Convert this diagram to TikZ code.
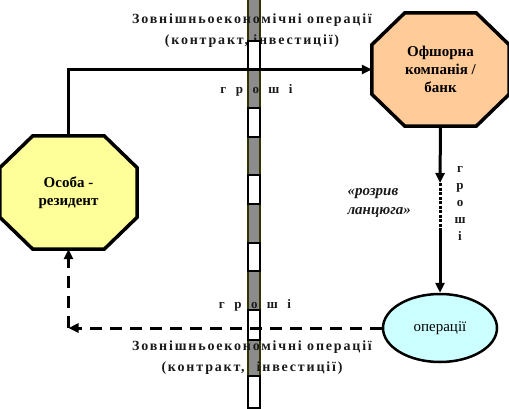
\documentclass[tikz,border=0pt]{standalone}
\usepackage{fontspec}
\setmainfont{Liberation Serif}
\usetikzlibrary{arrows.meta,shapes.geometric,backgrounds}
\definecolor{resyellow}{HTML}{FFFF99}
\definecolor{offpeach}{HTML}{FFCC99}
\definecolor{opcyan}{HTML}{CCFFFF}
\definecolor{bargray}{HTML}{8C8C8C}
\definecolor{barolive}{HTML}{333300}
\definecolor{txtdark}{HTML}{1A1A1A}
\begin{document}
\begin{tikzpicture}[x=1pt,y=-1pt,
  octbox/.style={minimum width=137pt, minimum height=113pt, inner sep=0pt, align=center,
    font=\fontsize{15pt}{18pt}\selectfont\bfseries},
  octline/.style={draw=black, line width=3.5pt, line join=miter},
  spacedtxt/.style={text=txtdark, align=center,
    font=\fontsize{14pt}{21pt}\selectfont\bfseries\addfontfeature{LetterSpace=13}},
  groshitxt/.style={text=txtdark,
    font=\fontsize{13pt}{15pt}\selectfont\bfseries\addfontfeature{LetterSpace=48}},
  vgroshi/.style={text=txtdark, align=center, inner sep=0pt,
    font=\fontsize{13pt}{17pt}\selectfont\bfseries},
  tip/.style={-{Triangle[length=10pt,width=9pt]}},
  flow/.style={line width=3pt, tip},
  backflow/.style={line width=3pt, dash pattern=on 12pt off 8pt, tip},
  graybar/.style={fill=bargray, draw=barolive, line width=1.5pt},
  whiteseg/.style={fill=white, draw=black, line width=1.5pt}
]
\useasboundingbox (0,0) rectangle (509,408);

% border bar (gray base)
\draw[graybar] (248,-2) rectangle (260,410);

% octagon nodes
\node[octbox] (res) at (68.5,192.5) {Особа -\\резидент};
\node[octbox] (off) at (440.5,69.5) {Офшорна\\компанія /\\банк};
\begin{scope}[on background layer]
  \foreach \n/\c in {res/resyellow, off/offpeach} {
    \draw[octline, fill=\c]
      ([xshift=33pt]\n.north west) -- ([xshift=-33pt]\n.north east)
      -- ([yshift=-32pt]\n.north east) -- ([yshift=32pt]\n.south east)
      -- ([xshift=-33pt]\n.south east) -- ([xshift=33pt]\n.south west)
      -- ([yshift=32pt]\n.south west) -- ([yshift=-32pt]\n.north west) -- cycle;
  }
\end{scope}

% ellipse
\node[ellipse, draw, line width=2.5pt, fill=opcyan, minimum width=114pt, minimum height=68pt,
  inner sep=0pt, font=\fontsize{15pt}{18pt}\selectfont] (ops) at (440,328) {операції};

% texts
\node[spacedtxt] (topinfo) at (252,31) {Зовнішньоекономічні операції\\(контракт, інвестиції)};
\node[spacedtxt] (botinfo) at (252,358) {Зовнішньоекономічні операції\\(контракт,\hspace{12pt}інвестиції)};
\node[groshitxt] (gtop) at (256.5,90) {г р о ш і};
\node[groshitxt] (gbot) at (255,305) {г р о ш і};
\node[vgroshi] (gvert) at (460,204) {г\\р\\о\\ш\\і};
\node[anchor=west, align=left, text=txtdark, font=\fontsize{15pt}{19pt}\selectfont\bfseries\itshape]
  (gap) at (344,203) {«розрив\\ланцюга»};

% white segments of the bar
\foreach \a/\b in {41/69, 108/137, 175/204, 243/271, 310/340, 376/408} {
  \draw[whiteseg] (248,\a) rectangle (260,\b);
}

% connectors
\coordinate (topcorner) at (res.north |- off.west);
\draw[flow] (res.north) -- (topcorner) -- (off.west);

\coordinate (brk1) at (440,183);
\coordinate (brk2) at (440,228);
\draw[flow] (off.south) -- (brk1);
\draw[line width=3pt, dash pattern=on 3pt off 1.5pt] (brk1) -- (brk2);
\draw[flow] (brk2) -- (ops.north);

\coordinate (botcorner) at (res.south |- ops.west);
\draw[backflow] (ops.west) -- (botcorner);
\draw[backflow] (botcorner) -- (res.south);
\end{tikzpicture}
\end{document}
